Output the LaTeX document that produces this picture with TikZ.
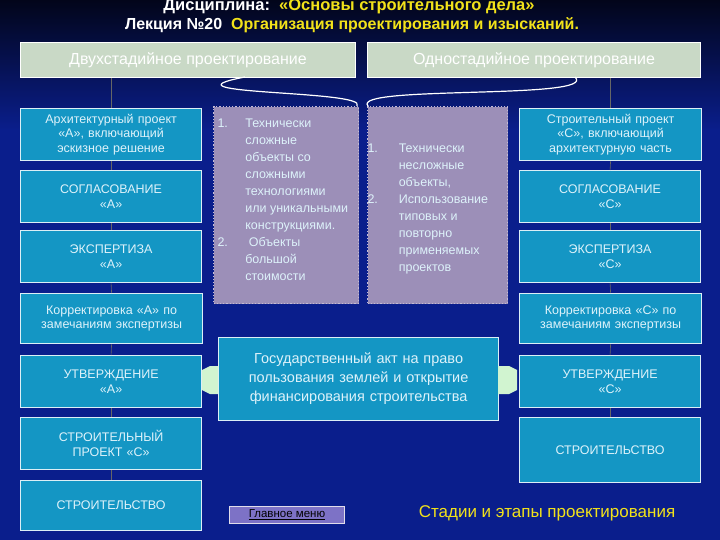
\documentclass[tikz,border=0pt]{standalone}
\usepackage{fontspec}
\setmainfont{Liberation Sans}
\usetikzlibrary{arrows.meta}
\definecolor{bgtop}{HTML}{02051A}
\definecolor{bgbot}{HTML}{0A1E8C}
\definecolor{teal}{HTML}{1496C4}
\definecolor{hdr}{HTML}{C9D9C6}
\definecolor{purp}{HTML}{9C8FB8}
\definecolor{ylw}{HTML}{F2E21A}
\definecolor{txt}{HTML}{DDF2FA}
\begin{document}
\begin{tikzpicture}[x=1pt,y=-1pt,
  box/.style={draw=white!85!teal,line width=1.2pt,fill=teal,text=txt,align=center,font=\fontsize{12.5}{14.5}\selectfont,anchor=north west,inner sep=2pt},
  hbox/.style={draw=white,line width=1pt,fill=hdr,anchor=north west,inner sep=0pt},
  pbox/.style={draw=purp!60!white,dotted,line width=1.2pt,fill=purp,anchor=north west},
  ptxt/.style={text=txt,anchor=north west,align=left,font=\fontsize{12.5}{17}\selectfont},
  link/.style={draw=black!60,line width=0.6pt}]
\shade[top color=bgtop,bottom color=bgbot] (0,0) rectangle (720,130);
\fill[bgbot] (0,129) rectangle (720,540);
\useasboundingbox (0,0) rectangle (720,540);
\node[text=white,font=\bfseries\fontsize{16.5}{18}\selectfont] (t1) at (349,6) {Дисциплина:\ \ \textcolor{ylw}{«Основы строительного дела»}};
\node[text=white,font=\bfseries\fontsize{16}{18}\selectfont] (t2) at (352,25) {Лекция №20\ \ \textcolor{ylw}{Организация проектирования и изысканий.}};
\node[hbox,minimum width=335,minimum height=35] (h1) at (20,42) {};
\node at (h1.center) {\fontsize{16}{18}\selectfont\color{white}Двухстадийное проектирование};
\node[hbox,minimum width=333,minimum height=35] (h2) at (367,42) {};
\node at (h2.center) {\fontsize{16}{18}\selectfont\color{white}Одностадийное проектирование};
% purple boxes
\node[pbox,minimum width=145,minimum height=197] (p1) at (213,106) {};
\node[pbox,minimum width=140,minimum height=197] (p2) at (367,106) {};
\node[ptxt] (p1t) at (214,112) {%
\begin{tabular}{@{}l@{\ \ \ \ \ }l@{}}1.&Технически\\&сложные\\&объекты со\\&сложными\\&технологиями\\&или уникальными\\&конструкциями.\\2.&\ Объекты\\&большой\\&стоимости\end{tabular}};
\node[ptxt] (p2t) at (364,137) {%
\begin{tabular}{@{}l@{\ \ \ \ \ \ }l@{}}1.&Технически\\&несложные\\&объекты,\\2.&Использование\\&типовых и\\&повторно\\&применяемых\\&проектов\end{tabular}};
% left column
\node[box,minimum width=181,minimum height=52,text width=176] (a1) at (20,108) {Архитектурный проект «А», включающий эскизное решение};
\node[box,minimum width=181,minimum height=52,text width=170] (a2) at (20,170) {СОГЛАСОВАНИЕ\\«А»};
\node[box,minimum width=181,minimum height=52,text width=170] (a3) at (20,230) {ЭКСПЕРТИЗА\\«А»};
\node[box,minimum width=181,minimum height=50,text width=178] (a4) at (20,293) {Корректировка «А» по замечаниям экспертизы};
\node[box,minimum width=181,minimum height=52,text width=170] (a5) at (20,355) {УТВЕРЖДЕНИЕ\\«А»};
\node[box,minimum width=181,minimum height=52,text width=170] (a6) at (20,417) {СТРОИТЕЛЬНЫЙ\\ПРОЕКТ «С»};
\node[box,minimum width=181,minimum height=50,text width=170] (a7) at (20,480) {СТРОИТЕЛЬСТВО\\[14pt]};
% right column
\node[box,minimum width=181,minimum height=52,text width=178] (b1) at (519,108) {Строительный проект «С», включающий архитектурную часть};
\node[box,minimum width=181,minimum height=52,text width=170] (b2) at (519,170) {СОГЛАСОВАНИЕ\\«С»};
\node[box,minimum width=181,minimum height=52,text width=170] (b3) at (519,230) {ЭКСПЕРТИЗА\\«С»};
\node[box,minimum width=181,minimum height=50,text width=178] (b4) at (519,293) {Корректировка «С» по замечаниям экспертизы};
\node[box,minimum width=181,minimum height=52,text width=170] (b5) at (519,355) {УТВЕРЖДЕНИЕ\\«С»};
\node[box,minimum width=181,minimum height=65,text width=170] (b6) at (519,417) {СТРОИТЕЛЬСТВО};
% middle
\node[box,minimum width=280,minimum height=83,text width=274,font=\fontsize{14.5}{19}\selectfont] (m) at (218,337) {Государственный акт на право пользования землей и открытие финансирования строительства};
% arrows
\fill[hdr!70!green!40!white] (202,370) -- (210,366) -- (218,366) -- (218,394) -- (210,394) -- (202,390) -- cycle;
\fill[hdr!70!green!40!white] (517,370) -- (509,366) -- (498,366) -- (498,394) -- (509,394) -- (517,390) -- cycle;
% links
\foreach \u/\v in {a1/a2,a2/a3,a3/a4,a4/a5,a5/a6,a6/a7,b1/b2,b2/b3,b3/b4,b4/b5,b5/b6} \draw[link] (\u.south) -- (\v.north);
\draw[link] (h1.south -| a1.north) -- (a1.north);
\draw[link] (h2.south -| b1.north) -- (b1.north);
\draw[white,line width=1.2pt] (245,77) .. controls (150,95) and (370,90) .. (357,106);
\draw[white,line width=1.2pt] (575,77) .. controls (600,100) and (350,85) .. (368,106);
% button
\node[draw=white!70!purp,line width=1pt,fill=purp!80!blue,minimum width=115,minimum height=16,font=\fontsize{11.5}{13}\selectfont,text=black] (btn) at (287,515) {\underline{Главное меню}};
\node[text=ylw,font=\fontsize{17}{19}\selectfont] (cap) at (547,513) {Стадии и этапы проектирования};
\end{tikzpicture}
\end{document}
